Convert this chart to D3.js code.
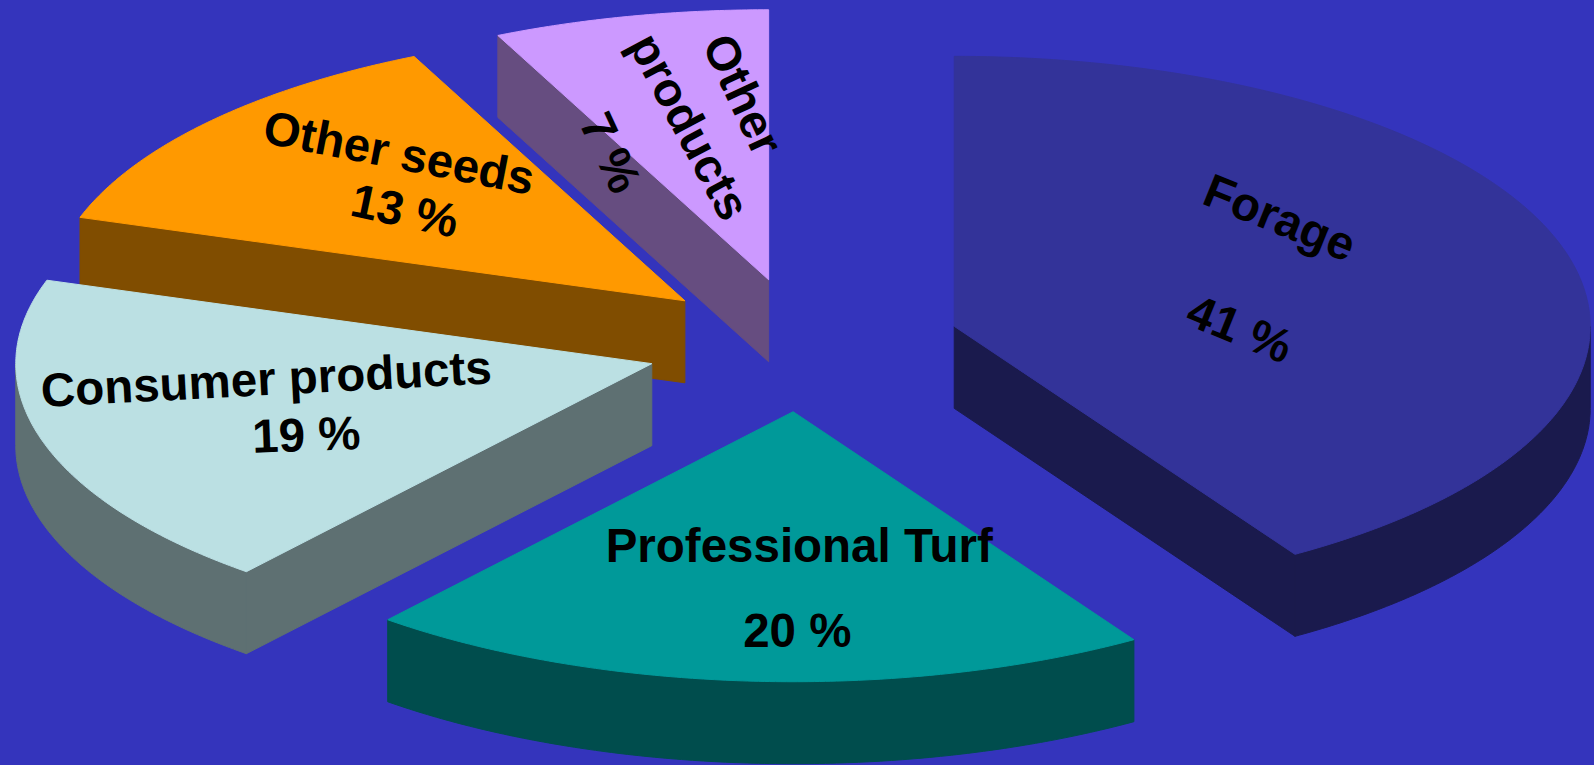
<!DOCTYPE html>
<html>
<head>
<meta charset="utf-8">
<script src="https://cdn.jsdelivr.net/npm/d3@7"></script>
<style>
  html, body { margin: 0; padding: 0; background: #3434bc; }
  svg { display: block; }
</style>
</head>
<body>
<svg id="chart" width="1594" height="765"></svg>
<script>
// ---------------- data ----------------
const categories = ["Forage", "Professional Turf", "Consumer products", "Other seeds", "Other products"];
const shares = [41, 20, 19, 13, 7];
const nameLines = [["Forage"], ["Professional Turf"], ["Consumer products"], ["Other seeds"], ["Other", "products"]];
const topColors = ["#333399", "#009999", "#bbe0e3", "#ff9900", "#cc99ff"];

// ---------------- layout / style ----------------
const W = 1594, H = 765;
const BG = "#3434bc";
const CX = 803, CY = 345;      // pie centre
const RX = 636, RY = 270;      // ellipse radii of the top face
const DEPTH = 82;              // thickness of the pie
const EXPLODE = 0.2476;        // explosion distance (fraction of radius)
const FONT = "'Liberation Sans', Arial, Helvetica, sans-serif";
const FONT_SIZE = 47.5;
// label anchors relative to the pie centre, in units of the radii
const labelLayout = [
  [{u: 0.750, v: -0.473, rot: 22}, {u: 0.687, v: -0.062, rot: 22}],
  [{u: -0.006, v: 0.742, rot: 0}, {u: -0.009, v: 1.057, rot: 0}],
  [{u: -0.844, v: 0.124, rot: -3}, {u: -0.781, v: 0.331, rot: -2}],
  [{u: -0.635, v: -0.713, rot: 11}, {u: -0.626, v: -0.499, rot: 12}],
  [{u: -0.094, v: -0.928, rot: 65}, {u: -0.178, v: -0.810, rot: 62}, {u: -0.302, v: -0.713, rot: 65}]
];

const svg = d3.select("#chart");
svg.append("rect").attr("width", W).attr("height", H).attr("fill", BG);

const x = d3.scaleLinear().domain([-1, 1]).range([CX - RX, CX + RX]);
const y = d3.scaleLinear().domain([-1, 1]).range([CY - RY, CY + RY]);

const arcs = d3.pie().sort(null).value(d => d)(shares);
const line = d3.line();

function darker(c) {
  const r = d3.rgb(c);
  return d3.rgb(r.r * 0.5, r.g * 0.5, r.b * 0.5).formatHex();
}

const slices = arcs.map((a, i) => {
  const mid = (a.startAngle + a.endAngle) / 2;
  const ox = EXPLODE * Math.sin(mid), oy = -EXPLODE * Math.cos(mid);
  const P = (ang, r = 1, dz = 0) => [x(ox + r * Math.sin(ang)), y(oy - r * Math.cos(ang)) + dz];
  return { a, i, mid, ox, oy, P, apexY: y(oy) };
});

const sample = (a0, a1) => {
  const n = Math.max(2, Math.ceil((a1 - a0) / (Math.PI / 360)));
  return d3.range(n + 1).map(k => a0 + (a1 - a0) * k / n);
};

const order = slices.slice().sort((p, q) => p.apexY - q.apexY);

order.forEach(s => {
  const { a, P, i } = s;
  const g = svg.append("g").attr("class", "slice").attr("data-category", categories[i]);
  const top = topColors[i], side = darker(top);
  const a0 = a.startAngle, a1 = a.endAngle;

  // radial faces
  const radial = (ang) => {
    const pts = [P(0, 0), P(ang), P(ang, 1, DEPTH), P(0, 0, DEPTH)];
    g.append("path").attr("d", line(pts) + "Z")
      .attr("fill", side).attr("stroke", side).attr("stroke-width", 1).attr("stroke-linejoin", "round");
  };
  if (Math.sin(a0) < -1e-6) radial(a0);
  if (Math.sin(a1) > 1e-6) radial(a1);

  // outer rim wall (front half only)
  const r0 = Math.max(a0, Math.PI / 2), r1 = Math.min(a1, 3 * Math.PI / 2);
  if (r1 > r0) {
    const angs = sample(r0, r1);
    const pts = angs.map(t => P(t)).concat(angs.slice().reverse().map(t => P(t, 1, DEPTH)));
    g.append("path").attr("d", line(pts) + "Z")
      .attr("fill", side).attr("stroke", side).attr("stroke-width", 1).attr("stroke-linejoin", "round");
  }

  // top face
  const tpts = [P(0, 0)].concat(sample(a0, a1).map(t => P(t)));
  g.append("path").attr("d", line(tpts) + "Z")
    .attr("fill", top).attr("stroke", top).attr("stroke-width", 1).attr("stroke-linejoin", "round");
});

// labels
slices.forEach(s => {
  const lines = nameLines[s.i].concat([shares[s.i] + " %"]);
  lines.forEach((txt, k) => {
    const L = labelLayout[s.i][k];
    const px = x(L.u), py = y(L.v);
    svg.append("text")
      .attr("transform", `translate(${px},${py}) rotate(${L.rot})`)
      .attr("text-anchor", "middle")
      .attr("dy", "0.35em")
      .attr("font-family", FONT)
      .attr("font-weight", "bold")
      .attr("font-size", FONT_SIZE)
      .attr("fill", "#000")
      .text(txt);
  });
});
</script>
</body>
</html>
